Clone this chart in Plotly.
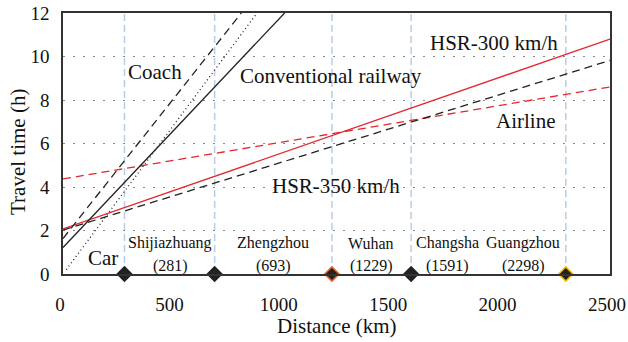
import plotly.graph_objects as go

# ---- data ----
series_names = ["HSR-300 km/h", "HSR-350 km/h", "Airline", "Conventional railway", "Coach", "Car"]
hsr300_x = [0, 2500]; hsr300_y = [2.07, 10.8]
hsr350_x = [0, 2500]; hsr350_y = [2.02, 9.82]
airline_x = [0, 2500]; airline_y = [4.37, 8.6]
conv_x = [0, 1013]; conv_y = [1.22, 12]
coach_x = [0, 815]; coach_y = [1.63, 12]
car_x = [15, 887]; car_y = [0.2, 12]

cities = ["Shijiazhuang", "Zhengzhou", "Wuhan", "Changsha", "Guangzhou"]
city_dist = [281, 693, 1229, 1591, 2298]
city_outline = ["#222222", "#222222", "#e8641e", "#222222", "#f5b800"]

x_ticks = [0, 500, 1000, 1500, 2000, 2500]
y_ticks = [0, 2, 4, 6, 8, 10, 12]

RED = "#e3262f"
BLK = "#222222"
FONT = "Liberation Serif"

fig = go.Figure()

# vertical city lines
for d in city_dist:
    fig.add_trace(go.Scatter(x=[d, d], y=[0, 12], mode="lines",
                             line=dict(color="#b9cde4", width=1.5, dash="7px,4px"),
                             hoverinfo="skip", showlegend=False))

def add_line(x, y, color, dash, width=1.3):
    fig.add_trace(go.Scatter(x=x, y=y, mode="lines",
                             line=dict(color=color, width=width, dash=dash),
                             showlegend=False))

add_line(airline_x, airline_y, RED, "8px,5px")
add_line(hsr350_x, hsr350_y, BLK, "8px,5px")
add_line(hsr300_x, hsr300_y, RED, "solid")
add_line(conv_x, conv_y, BLK, "solid")
add_line(coach_x, coach_y, BLK, "8px,5px")
add_line(car_x, car_y, BLK, "1px,3px")

# city markers on axis
fig.add_trace(go.Scatter(x=city_dist, y=[0] * len(city_dist), mode="markers",
                         marker=dict(symbol="diamond", size=11, color=BLK,
                                     line=dict(color=city_outline, width=1.5)),
                         cliponaxis=False, showlegend=False))

# series labels (pixel coords, converted to paper below)
labels = [
    ("Coach", 126, 72, "left", 21, 0),
    ("Conventional railway", 238, 76, "left", 21, 0),
    ("HSR-300 km/h", 560, 43, "right", 21, 0),
    ("Airline", 557, 121, "right", 21, 0),
    ("HSR-350 km/h", 270, 186, "left", 21, 0),
    ("Car", 86, 258, "left", 21, 0),
    ("Distance (km)", 337, 326, "center", 21, 0),
    ("Travel time (h)", 18, 152, "center", 21, -90),
]
for txt, px, py, al, fs, ang in labels:
    fig.add_annotation(x=px, y=py, xref="paper", yref="paper", text=txt,
                       showarrow=False, xanchor=al, yanchor="middle", textangle=ang,
                       font=dict(family=FONT, size=fs, color="#111111"))

city_label_x = [170, 273, 371, 447, 523]
for name, d, cx in zip(cities, city_dist, city_label_x):
    fig.add_annotation(x=cx, y=243, xref="paper", yref="paper", text=name,
                       showarrow=False, xanchor="center", yanchor="middle",
                       font=dict(family=FONT, size=16, color="#111111"))
    fig.add_annotation(x=cx, y=266, xref="paper", yref="paper", text="(%d)" % d,
                       showarrow=False, xanchor="center", yanchor="middle",
                       font=dict(family=FONT, size=16, color="#111111"))

L, R, T, B = 63, 18, 13, 68
W, H = 628, 342
pw, ph = W - L - R, H - T - B
for a in fig.layout.annotations:
    a.x = (a.x - L) / pw
    a.y = 1 - (a.y - T) / ph

fig.update_layout(
    width=W, height=H,
    margin=dict(l=L, r=R, t=T, b=B, autoexpand=False),
    plot_bgcolor="white", paper_bgcolor="white",
    font=dict(family=FONT, size=18, color="#111111"),
    xaxis=dict(range=[0, 2500], tickvals=x_ticks, showgrid=False, automargin=False,
               showline=True, linecolor="#333333", linewidth=1.5, mirror=True,
               ticks="outside", ticklen=12, tickcolor="rgba(0,0,0,0)",
               ticklabelshift=-3,
               zeroline=False, tickfont=dict(size=19)),
    yaxis=dict(range=[0, 12], tickvals=y_ticks, showgrid=True, automargin=False,
               gridcolor="#888888", gridwidth=1, griddash="2px,8px",
               showline=True, linecolor="#333333", linewidth=1.5, mirror=True,
               ticks="outside", ticklen=8, tickcolor="rgba(0,0,0,0)",
               zeroline=False, tickfont=dict(size=19)),
)

fig.write_html("out.html", config={"displayModeBar": False},
               post_script="document.body.style.margin='0px';"
                           "document.body.style.overflow='hidden';")
